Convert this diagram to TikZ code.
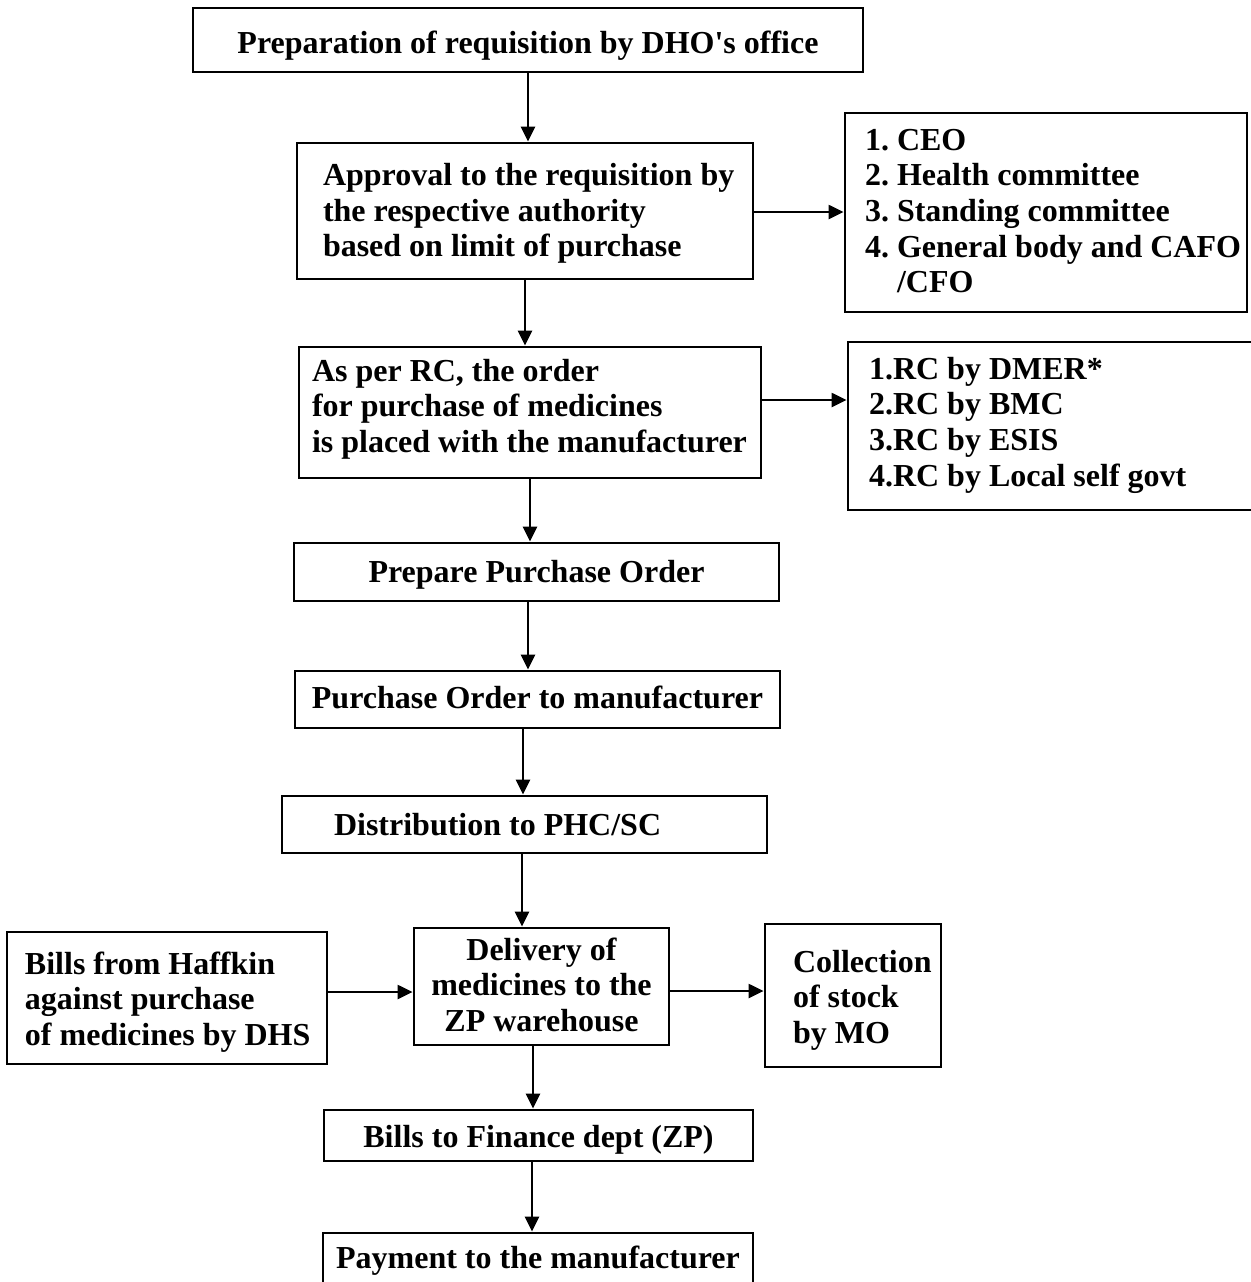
\documentclass[tikz,border=0pt]{standalone}
\usepackage{fontspec}
\setmainfont{Liberation Serif}
\usetikzlibrary{arrows.meta}
\frenchspacing
\newcommand\mytop[1]{\rule{0pt}{#1}}
\newcommand\mybot[1]{\rule[-#1]{0pt}{#1}}
\begin{document}
\begin{tikzpicture}[x=0.5pt,y=-0.5pt,
  box/.style={draw, line width=1.4pt, inner sep=0pt,
    font=\bfseries\fontsize{16pt}{17.85pt}\selectfont,
    execute at begin node={\spaceskip=4pt\relax\xspaceskip=4pt\relax}},
  cbox/.style={box, align=center},
  lbox/.style={box, align=left},
  arr/.style={line width=1.15pt, -{Triangle[length=7.5pt,width=7pt]}}]
\useasboundingbox (0,0) rectangle (1250,1282);

\node[cbox, minimum height=32pt, inner xsep=2pt, text width=331pt] (b1) at (528,40)
  {\mytop{17pt}Preparation of requisition by DHO\textquotesingle s office\mybot{4pt}};
\node[lbox, minimum height=68pt, inner xsep=13pt, text width=202pt] (b2) at (525,211)
  {\mytop{14.2pt}\mbox{Approval to the requisition by}\\\mbox{the respective authority}\\\mbox{based on limit of purchase}\mybot{4pt}};
\node[lbox, minimum height=99.5pt, inner xsep=10pt, text width=181pt] (ceo) at (1046,212.5)
  {\mytop{12.9pt}\mbox{1. CEO}\\\mbox{2. Health committee}\\\mbox{3. Standing committee}\\\mbox{4. General body and CAFO}\\\mbox{\hspace*{1em}/CFO}\mybot{4pt}};
\node[lbox, minimum height=65.5pt, inner xsep=6.5pt, text width=218pt] (b3) at (530,412.5)
  {\mytop{13.4pt}\mbox{As per RC, the order}\\\mbox{for purchase of medicines}\\\mbox{is placed with the manufacturer}\mybot{9pt}};
\node[lbox, minimum height=84pt, inner xsep=10.5pt, text width=183pt] (rc) at (1052,426)
  {\mytop{12.55pt}\mbox{1.RC by DMER*}\\\mbox{2.RC by BMC}\\\mbox{3.RC by ESIS}\\\mbox{4.RC by Local self govt}\mybot{6pt}};
\node[cbox, minimum height=29pt, inner xsep=2pt, text width=238.5pt] (b4) at (536.5,572)
  {\mytop{14pt}Prepare Purchase Order\mybot{4pt}};
\node[cbox, minimum height=28.5pt, inner xsep=2pt, text width=238.5pt] (b5) at (537.5,699.5)
  {\mytop{13pt}Purchase Order to manufacturer\mybot{4.5pt}};
\node[lbox, minimum height=28.5pt, inner xsep=26pt, text width=190.5pt] (b6) at (524.5,824.5)
  {\mytop{14.5pt}\mbox{Distribution to PHC/SC}\mybot{4pt}};
\node[cbox, minimum height=58.5pt, inner xsep=2pt, text width=123.5pt] (b7) at (541.5,986.5)
  {\mytop{13.2pt}Delivery of\\medicines to the\\ZP warehouse\mybot{4pt}};
\node[lbox, minimum height=66pt, inner xsep=9pt, text width=142pt] (bills) at (167,998)
  {\mytop{15.7pt}\mbox{Bills from Haffkin}\\\mbox{against purchase}\\\mbox{of medicines by DHS}\mybot{4pt}};
\node[lbox, minimum height=71.5pt, inner xsep=14pt, text width=60pt] (coll) at (853,995.5)
  {\mytop{16.2pt}\mbox{Collection}\\\mbox{of stock}\\\mbox{by MO}\mybot{4pt}};
\node[cbox, minimum height=25.5pt, inner xsep=2pt, text width=210.5pt] (b8) at (538.5,1135.5)
  {\mytop{15.5pt}Bills to Finance dept (ZP)\mybot{4pt}};
\node[cbox, minimum height=26pt, inner xsep=2pt, text width=211pt] (b9) at (538,1259)
  {\mytop{13pt}Payment to the manufacturer\mybot{4pt}};

\coordinate (c1) at (528,0);
\coordinate (c2) at (525,0);
\coordinate (c3) at (530,0);
\coordinate (c4) at (528,0);
\coordinate (c5) at (523,0);
\coordinate (c6) at (522,0);
\coordinate (c7) at (533,0);
\coordinate (c8) at (532,0);
\coordinate (r1) at (0,212);
\coordinate (r2) at (0,400);
\coordinate (r3) at (0,992);
\coordinate (r4) at (0,991);

\draw[arr] (b1.south -| c1) -- (b2.north -| c1);
\draw[arr] (b2.south -| c2) -- (b3.north -| c2);
\draw[arr] (b3.south -| c3) -- (b4.north -| c3);
\draw[arr] (b4.south -| c4) -- (b5.north -| c4);
\draw[arr] (b5.south -| c5) -- (b6.north -| c5);
\draw[arr] (b6.south -| c6) -- (b7.north -| c6);
\draw[arr] (b7.south -| c7) -- (b8.north -| c7);
\draw[arr] (b8.south -| c8) -- (b9.north -| c8);
\draw[arr] (b2.east |- r1) -- (ceo.west |- r1);
\draw[arr] (b3.east |- r2) -- (rc.west |- r2);
\draw[arr] (bills.east |- r3) -- (b7.west |- r3);
\draw[arr] (b7.east |- r4) -- (coll.west |- r4);
\end{tikzpicture}
\end{document}
